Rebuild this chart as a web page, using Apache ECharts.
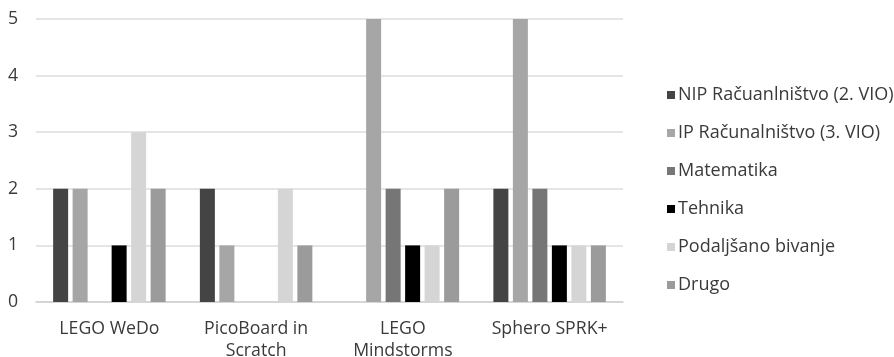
<!DOCTYPE html>
<html>
<head>
<meta charset="utf-8">
<script src="https://cdn.jsdelivr.net/npm/echarts@6/dist/echarts.min.js"></script>
<style>
  html, body { margin: 0; padding: 0; background: #fff; }
  #chart { width: 894px; height: 357px; }
</style>
</head>
<body>
<div id="chart"></div>
<script>
// Robotics kits and how many times each was used per subject
const categories = ['LEGO WeDo', 'PicoBoard in\nScratch', 'LEGO\nMindstorms', 'Sphero SPRK+'];
const seriesNames = [
  'NIP Račuanlništvo (2. VIO)',
  'IP Računalništvo (3. VIO)',
  'Matematika',
  'Tehnika',
  'Podaljšano bivanje',
  'Drugo'
];
const nipValues = [2, 2, 0, 2];
const ipValues = [2, 1, 5, 5];
const matematikaValues = [0, 0, 2, 2];
const tehnikaValues = [1, 0, 1, 1];
const podaljsanoValues = [3, 2, 1, 1];
const drugoValues = [2, 1, 2, 1];
const yTicks = [0, 1, 2, 3, 4, 5];

const seriesValues = [nipValues, ipValues, matematikaValues, tehnikaValues, podaljsanoValues, drugoValues];
const colors = ['#444444', '#a6a6a6', '#767676', '#000000', '#d5d5d5', '#9b9b9b'];

const fontFamily = '"Open Sans", "Noto Sans", sans-serif';
const textColor = '#3a3a3a';

const chart = echarts.init(document.getElementById('chart'), null, { renderer: 'canvas' });
chart.setOption({
  animation: false,
  backgroundColor: '#ffffff',
  color: colors,
  grid: { left: 36, right: 271, top: 19, bottom: 55, containLabel: false, outerBoundsMode: 'none' },
  legend: {
    orient: 'vertical',
    left: 662,
    top: 79,
    itemWidth: 8,
    itemHeight: 8,
    itemGap: 16,
    icon: 'rect',
    data: seriesNames,
    textStyle: { fontFamily: fontFamily, fontSize: 18, color: textColor, padding: [0, 0, 0, -2], lineHeight: 22 }
  },
  xAxis: {
    type: 'category',
    data: categories,
    axisTick: { show: false },
    axisLine: { lineStyle: { color: '#cfcfcf', width: 1.5 } },
    axisLabel: {
      fontFamily: fontFamily, fontSize: 17.7, color: textColor,
      margin: 16, lineHeight: 22, interval: 0
    }
  },
  yAxis: {
    type: 'value',
    min: yTicks[0],
    max: yTicks[yTicks.length - 1],
    interval: 1,
    axisLine: { show: false },
    axisTick: { show: false },
    splitLine: { lineStyle: { color: '#dcdcdc', width: 1.5 } },
    axisLabel: { fontFamily: fontFamily, fontSize: 17.7, color: textColor, margin: 18 }
  },
  series: seriesValues.map((vals, i) => ({
    name: seriesNames[i],
    type: 'bar',
    data: vals,
    barWidth: 15,
    barGap: '30%',
    itemStyle: { color: colors[i] }
  }))
});
</script>
</body>
</html>
